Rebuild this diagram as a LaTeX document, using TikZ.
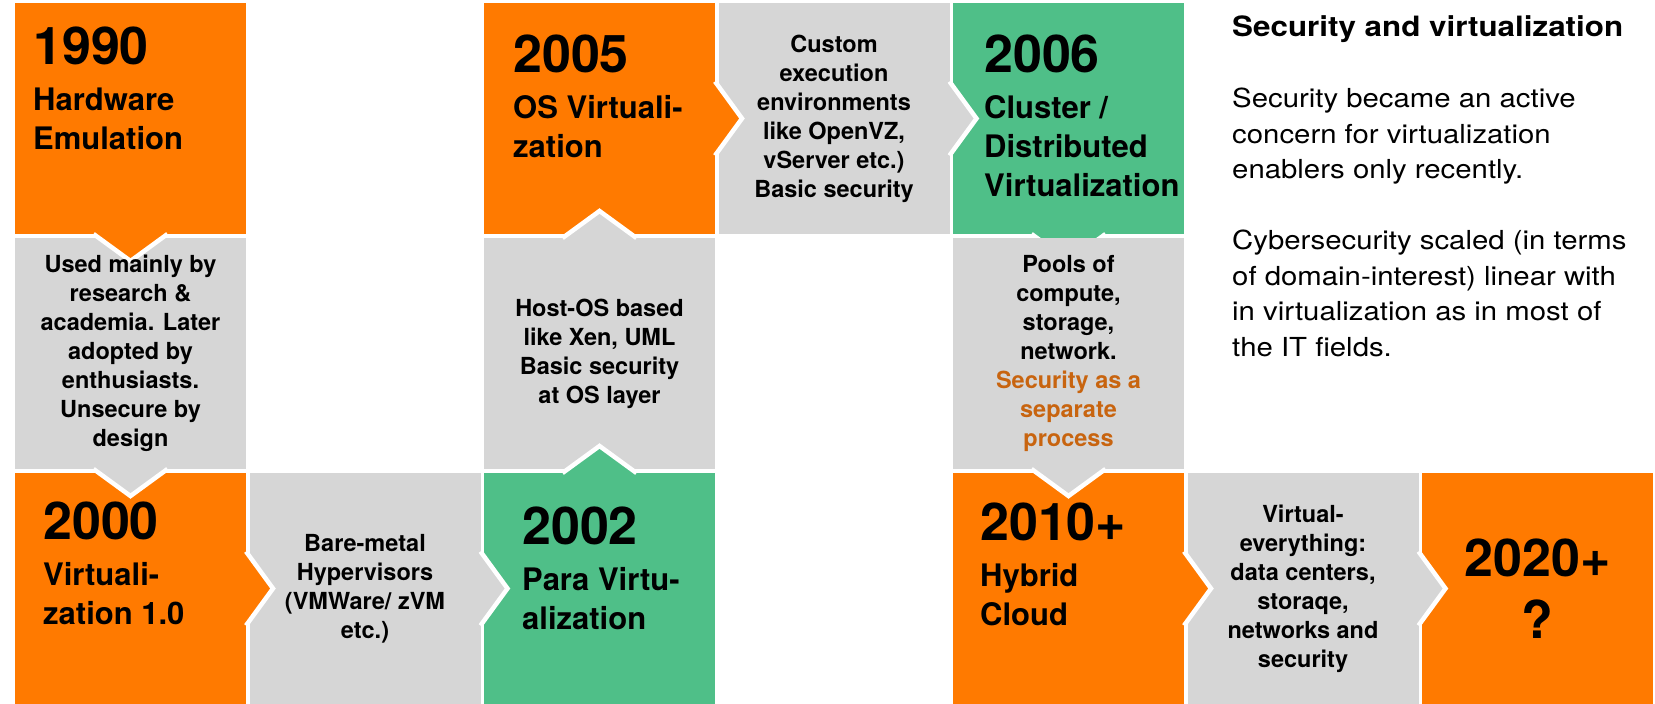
\documentclass[tikz,border=0pt]{standalone}
\usepackage{fontspec}
\setmainfont{TeX Gyre Heros}
\newfontfamily\widefont[FakeStretch=1.12]{TeX Gyre Heros}
\usetikzlibrary{positioning}
\definecolor{vorange}{HTML}{FF7A00}
\definecolor{vgreen}{HTML}{4FBF88}
\definecolor{vgray}{HTML}{D6D6D6}
\definecolor{vbrown}{HTML}{C8640F}

\begin{document}
\begin{tikzpicture}[x=1pt,y=-1pt,%
boxfill/.style={minimum width=231pt,minimum height=231pt,inner sep=0pt,outer sep=0pt,anchor=north west},
erabox/.style={boxfill,fill=vorange},
newbox/.style={boxfill,fill=vgreen},
notebox/.style={boxfill,fill=vgray},
yearlabel/.style={anchor=north west,inner sep=0pt,font=\fontsize{52}{62}\selectfont\bfseries},
eralabel/.style={inner sep=0pt,align=left,font=\fontsize{31}{39}\selectfont\bfseries},
notetext/.style={inner sep=0pt,align=center,font=\fontsize{23.5}{29}\selectfont\bfseries},
notch/.style={draw=white,line width=4.5pt,line join=miter}
]
\useasboundingbox (0,0) rectangle (1655,704);
% boxes
\node[style=erabox] (hw emu) at (15,3) {};
\node[style=notebox] (hw note) at (15,238) {};
\node[style=erabox] (virt one) at (15,473) {};
\node[style=notebox] (bare metal) at (249.5,473) {};
\node[style=newbox] (para virt) at (484,473) {};
\node[style=notebox] (host os) at (484,238) {};
\node[style=erabox] (os virt) at (484,3) {};
\node[style=notebox] (custom env) at (718.5,3) {};
\node[style=newbox] (cluster) at (953,3) {};
\path[style=notch,fill=vgreen] ([xshift=-37pt]cluster.south) -- ([yshift=-27pt]cluster.south) -- ([xshift=37pt]cluster.south);
\node[style=notebox] (pools) at (953,238) {};
\node[style=erabox] (hybrid) at (953,473) {};
\node[style=notebox] (virt all) at (1187.5,473) {};
\node[style=erabox] (future) at (1422,473) {};
% notches
\path[style=notch,fill=vorange] ([xshift=-37pt]hw emu.south) -- ([yshift=-27pt]hw emu.south) -- ([xshift=37pt]hw emu.south);
\path[style=notch,fill=vgray] ([xshift=-37pt]hw note.south) -- ([yshift=-27pt]hw note.south) -- ([xshift=37pt]hw note.south);
\path[style=notch,fill=vorange] ([yshift=37pt]virt one.east) -- ([xshift=27pt]virt one.east) -- ([yshift=-37pt]virt one.east);
\path[style=notch,fill=vgray] ([yshift=37pt]bare metal.east) -- ([xshift=27pt]bare metal.east) -- ([yshift=-37pt]bare metal.east);
\path[style=notch,fill=vgreen] ([xshift=-37pt]para virt.north) -- ([yshift=27pt]para virt.north) -- ([xshift=37pt]para virt.north);
\path[style=notch,fill=vgray] ([xshift=-37pt]host os.north) -- ([yshift=27pt]host os.north) -- ([xshift=37pt]host os.north);
\path[style=notch,fill=vorange] ([yshift=37pt]os virt.east) -- ([xshift=27pt]os virt.east) -- ([yshift=-37pt]os virt.east);
\path[style=notch,fill=vgray] ([yshift=37pt]custom env.east) -- ([xshift=27pt]custom env.east) -- ([yshift=-37pt]custom env.east);
\path[style=notch,fill=vgray] ([xshift=-37pt]pools.south) -- ([yshift=-27pt]pools.south) -- ([xshift=37pt]pools.south);
\path[style=notch,fill=vorange] ([yshift=37pt]hybrid.east) -- ([xshift=27pt]hybrid.east) -- ([yshift=-37pt]hybrid.east);
\path[style=notch,fill=vgray] ([yshift=37pt]virt all.east) -- ([xshift=27pt]virt all.east) -- ([yshift=-37pt]virt all.east);
% texts
\node[style=yearlabel] (hw emu year) at ([xshift=18pt,yshift=-24pt]hw emu.north west) {1990};
\node[style=eralabel,below right=22pt and 0pt of hw emu year.south west] (hw emu title) {Hardware\\Emulation};
\node[style=yearlabel] (os virt year) at ([xshift=29pt,yshift=-32pt]os virt.north west) {2005};
\node[style=eralabel,below right=22pt and 0pt of os virt year.south west] (os virt title) {OS Virtuali-\\zation};
\node[style=yearlabel] (cluster year) at ([xshift=31pt,yshift=-32pt]cluster.north west) {2006};
\node[style=eralabel,below right=22pt and 0pt of cluster year.south west] (cluster title) {Cluster /\\Distributed\\Virtualization};
\node[style=yearlabel] (virt one year) at ([xshift=28pt,yshift=-29pt]virt one.north west) {2000};
\node[style=eralabel,below right=22pt and 0pt of virt one year.south west] (virt one title) {Virtuali-\\zation 1.0};
\node[style=yearlabel] (para virt year) at ([xshift=38pt,yshift=-34pt]para virt.north west) {2002};
\node[style=eralabel,below right=22pt and 0pt of para virt year.south west] (para virt title) {Para Virtu-\\alization};
\node[style=yearlabel] (hybrid year) at ([xshift=27pt,yshift=-30pt]hybrid.north west) {2010+};
\node[style=eralabel,below right=22pt and 0pt of hybrid year.south west] (hybrid title) {Hybrid\\Cloud};
\node[style=yearlabel,anchor=center,align=center] (future year) at (future) {2020+\\?};
\node[style=notetext] (hw note text) at (hw note) {Used mainly by\\research \&\\academia. Later\\adopted by\\enthusiasts.\\Unsecure by\\design};
\node[style=notetext] (bare metal text) at (bare metal) {Bare-metal\\Hypervisors\\(VMWare/ zVM\\etc.)};
\node[style=notetext] (host os text) at (host os) {Host-OS based\\like Xen, UML\\Basic security\\at OS layer};
\node[style=notetext] (custom env text) at (custom env) {Custom\\execution\\environments\\like OpenVZ,\\vServer etc.)\\Basic security};
\node[style=notetext] (pools text) at (pools) {Pools of\\compute,\\storage,\\network.\\\textcolor{vbrown}{Security as a}\\\textcolor{vbrown}{separate}\\\textcolor{vbrown}{process}};
\node[style=notetext] (virt all text) at (virt all) {Virtual-\\everything:\\data centers,\\storaqe,\\networks and\\security};
% side text
\node[anchor=north west,inner sep=0pt,font=\fontsize{28}{35}\selectfont\widefont\bfseries] (sec head) at (1232,15) {Security and virtualization};
\node[anchor=north west,inner sep=0pt,align=left,font=\fontsize{26.2}{35.5}\selectfont\widefont] (sec text) at (1232,88) {Security became an active\\concern for virtualization\\enablers only recently.\\[35.5pt]Cybersecurity scaled (in terms\\of domain-interest) linear with\\in virtualization as in most of\\the IT fields.};
\end{tikzpicture}
\end{document}
